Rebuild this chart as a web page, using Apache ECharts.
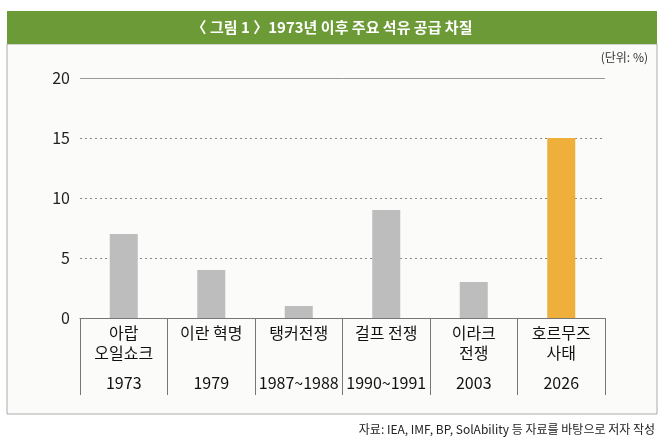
<!doctype html>
<html>
<head>
<meta charset="utf-8">
<script src="https://cdn.jsdelivr.net/npm/echarts@6/dist/echarts.min.js"></script>
<style>html,body{margin:0;padding:0;background:#fff}#c{width:664px;height:445px}</style>
</head>
<body>
<div id="c"></div>
<script>
var names = ['아랍\n오일쇼크', '이란 혁명', '탱커전쟁', '걸프 전쟁', '이라크\n전쟁', '호르무즈\n사태'];
var years = ['1973', '1979', '1987~1988', '1990~1991', '2003', '2026'];
var values = [7, 4, 1, 9, 3, 15];
var colors = ['#bdbdbd', '#bdbdbd', '#bdbdbd', '#bdbdbd', '#bdbdbd', '#eeb03a'];
var yTicks = [0, 5, 10, 15, 20];

var font = '"Noto Sans CJK KR", sans-serif';
var chart = echarts.init(document.getElementById('c'));
chart.setOption({
	textStyle: { fontFamily: font },
	graphic: [
		{ type: 'rect', shape: { x: 7, y: 44, width: 650, height: 370 }, style: { fill: '#fbfbf9', stroke: '#aaa', lineWidth: 1 }, z: -10 },
		{ type: 'rect', shape: { x: 7, y: 11, width: 650, height: 33 }, style: { fill: '#6c9a36' }, z: -5 },
		{ type: 'text', x: 332, y: 27, style: { text: '〈 그림 1 〉1973년 이후 주요 석유 공급 차질', fill: '#fff', font: 'bold 15px ' + font, align: 'center', verticalAlign: 'middle' } },
		{ type: 'text', x: 648, y: 57, style: { text: '(단위: %)', fill: '#333', font: '12px ' + font, align: 'right', verticalAlign: 'middle' } },
		{ type: 'text', x: 655, y: 429, style: { text: '자료: IEA, IMF, BP, SolAbility 등 자료를 바탕으로 저자 작성', fill: '#222', font: '12px ' + font, align: 'right', verticalAlign: 'middle' } }
	],
	grid: { left: 80, right: 59, top: 78, bottom: 127 },
	xAxis: {
		type: 'category',
		data: names,
		axisLine: { show: true, lineStyle: { color: '#777', width: 1 } },
		axisTick: { show: true, interval: 0, alignWithLabel: false, length: 77, lineStyle: { color: '#777', width: 1 } },
		axisLabel: {
			margin: 5,
			interval: 0,
			formatter: function (v, i) {
				var l = v.split('\n');
				if (l.length < 2) l.push(' ');
				return '{n|' + l[0] + '}\n{n|' + l[1] + '}\n{y|' + years[i] + '}';
			},
			rich: {
				n: { fontSize: 16, lineHeight: 20, color: '#111', fontFamily: font },
				y: { fontSize: 16, lineHeight: 40, color: '#111', fontFamily: font }
			}
		}
	},
	yAxis: {
		type: 'value',
		min: yTicks[0], max: yTicks[yTicks.length - 1], interval: 5,
		axisLine: { show: false },
		axisTick: { show: false },
		axisLabel: { color: '#222', fontSize: 16, margin: 10 },
		splitLine: { lineStyle: { color: '#888', type: [2, 3] } }
	},
	series: [{
		type: 'bar',
		barWidth: 28,
		data: values.map(function (v, i) { return { value: v, itemStyle: { color: colors[i] } }; }),
		markLine: { silent: true, symbol: 'none', label: { show: false }, lineStyle: { color: '#999', type: 'solid', width: 1 }, data: [{ yAxis: 20 }] }
	}]
});
</script>
</body>
</html>
